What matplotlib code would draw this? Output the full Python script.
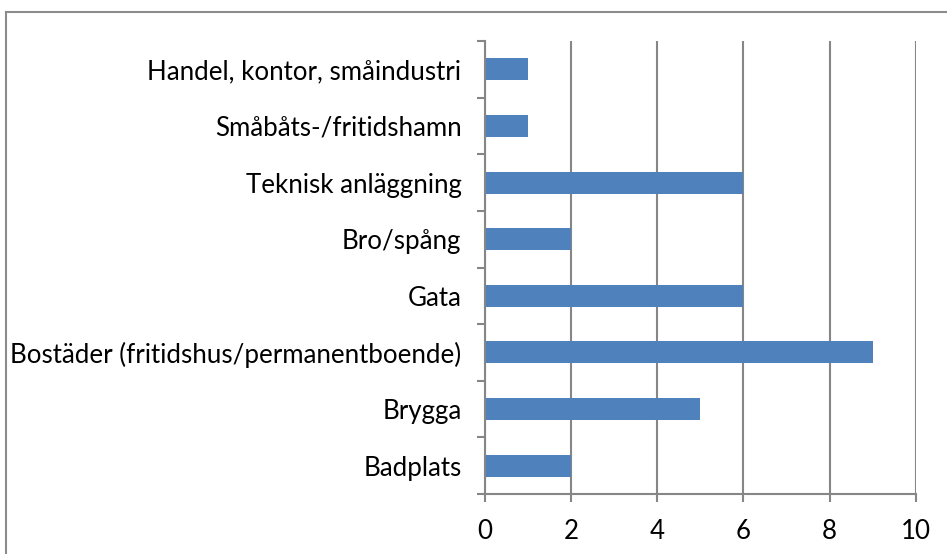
import matplotlib.pyplot as plt
from matplotlib.lines import Line2D

# kategorier nedifrån och upp, antal per kategori
kategorier = ['Badplats', 'Brygga', 'Bostäder (fritidshus/permanentboende)', 'Gata',
              'Bro/spång', 'Teknisk anläggning', 'Småbåts-/fritidshamn',
              'Handel, kontor, småindustri']
antal = [2, 5, 9, 6, 2, 6, 1, 1]
x_ticks = [0, 2, 4, 6, 8, 10]

BLA = '#4f81bd'
GRA = '#868686'

plt.rcParams['font.family'] = ['Lato', 'DejaVu Sans']

W, H = 947, 554
fig = plt.figure(figsize=(W / 100, H / 100), dpi=100)
ax = fig.add_axes([485 / W, 1 - 494 / H, (915.7 - 485) / W, (494 - 41) / H])

pos = list(range(len(kategorier)))
ax.barh(pos, antal, height=0.39, color=BLA, zorder=3)

ax.set_xlim(0, 10)
ax.set_ylim(-0.5, len(kategorier) - 0.5)
ax.set_xticks(x_ticks)
ax.set_xticklabels([str(t) for t in x_ticks])
ax.set_yticks(pos)
ax.set_yticklabels(kategorier)
ax.set_yticks([p - 0.5 for p in pos] + [len(kategorier) - 0.5], minor=True)

ax.tick_params(axis='y', which='major', length=0, pad=17, labelsize=18.6)
ax.tick_params(axis='y', which='minor', length=6, width=1.5, color=GRA, direction='out')
ax.tick_params(axis='x', length=6, width=1.5, color=GRA, direction='out', pad=12, labelsize=18.6)

ax.grid(axis='x', color=GRA, linewidth=1.5, zorder=0)
ax.set_axisbelow(True)
for s in ['top', 'right']:
    ax.spines[s].set_visible(False)
for s in ['left', 'bottom']:
    ax.spines[s].set_color(GRA)
    ax.spines[s].set_linewidth(1.5)
    ax.spines[s].set_zorder(4)

# ram runt diagrammet
fig.add_artist(Line2D([6 / W, 1], [1 - 12 / H, 1 - 12 / H], color='#8c8c8c', lw=1.5,
                      transform=fig.transFigure))
fig.add_artist(Line2D([6 / W, 6 / W], [0, 1 - 12 / H], color='#8c8c8c', lw=1.5,
                      transform=fig.transFigure))

fig.savefig('out.png', dpi=100)
